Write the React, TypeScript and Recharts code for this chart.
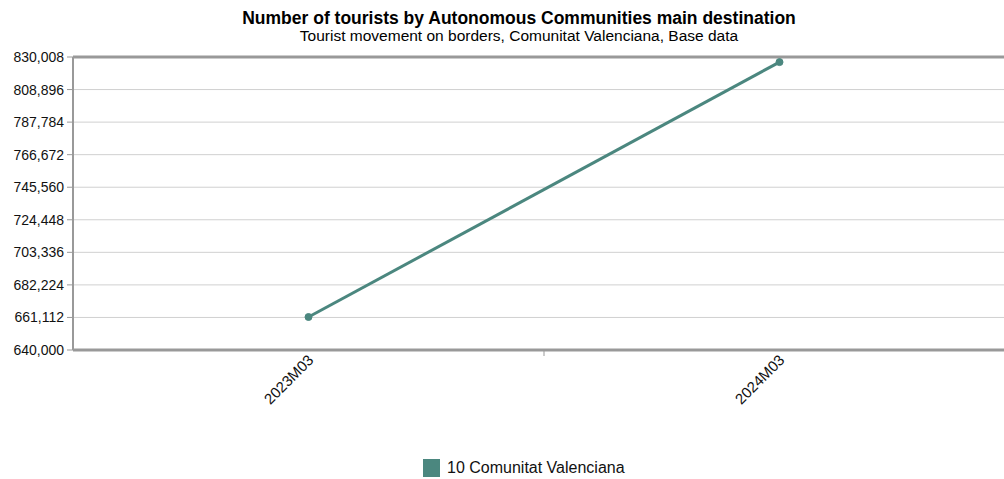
import React from 'react';
import { LineChart, Line, XAxis, YAxis, CartesianGrid, ReferenceLine } from 'recharts';

const periods: string[] = ['2023M03', '2024M03'];
const tourists: number[] = [661400, 826700];
const yTicks: number[] = [640000, 661112, 682224, 703336, 724448, 745560, 766672, 787784, 808896, 830008];
const seriesName = '10 Comunitat Valenciana';

const data = periods.map((p, i) => ({ period: p, value: tourists[i] }));

const FONT = '"Liberation Sans", Arial, Helvetica, sans-serif';
const LINE_COLOR = '#4b877f';
const AXIS_COLOR = '#999999';

const XTick = (props: any) => {
    const { x, y, payload, index } = props;
    return (
        <g>
            {index === 0 && (
                <line x1={x + 235.5} y1={y - 8} x2={x + 235.5} y2={y - 2} stroke={AXIS_COLOR} />
            )}
            <text
                x={x + 6}
                y={y + 3}
                transform={`rotate(-45, ${x + 6}, ${y + 3})`}
                textAnchor="end"
                fontSize={15}
                fontFamily={FONT}
                fill="#111"
            >
                {payload.value}
            </text>
        </g>
    );
};

const App: React.FC = () => {
    return (
        <div
            style={{
                position: 'absolute',
                left: 0,
                top: 0,
                width: 1004,
                height: 479,
                overflow: 'hidden',
                background: '#fff',
                fontFamily: FONT,
            }}
        >
            <div style={{ position: 'absolute', left: 0, width: 1038, top: 8, textAlign: 'center', fontSize: 17.5, fontWeight: 'bold', color: '#000', whiteSpace: 'nowrap' }}>
                Number of tourists by Autonomous Communities main destination
            </div>
            <div style={{ position: 'absolute', left: 0, width: 1038, top: 27, textAlign: 'center', fontSize: 15.5, color: '#000', whiteSpace: 'nowrap' }}>
                Tourist movement on borders, Comunitat Valenciana, Base data
            </div>
            <div style={{ position: 'absolute', left: 0, top: 0 }}>
                <LineChart
                    width={1015}
                    height={479}
                    data={data}
                    margin={{ top: 57, right: 0, left: 0, bottom: 0 }}
                >
                    <CartesianGrid vertical={false} stroke="#d0d0d0" />
                    <XAxis
                        dataKey="period"
                        scale="band"
                        height={129}
                        axisLine={{ stroke: AXIS_COLOR, strokeWidth: 3 }}
                        tickLine={false}
                        tick={<XTick />}
                        interval={0}
                    />
                    <YAxis
                        type="number"
                        width={73}
                        domain={[640000, 830008]}
                        ticks={yTicks}
                        interval={0}
                        allowDataOverflow
                        tickFormatter={(v: number) => v.toLocaleString('en-US')}
                        tick={{ fontSize: 14, fill: '#111', fontFamily: FONT }}
                        tickSize={6}
                        tickMargin={3}
                        axisLine={{ stroke: AXIS_COLOR, strokeWidth: 2 }}
                        tickLine={{ stroke: AXIS_COLOR }}
                    />
                    <ReferenceLine y={830008} stroke={AXIS_COLOR} strokeWidth={3} />
                    <Line
                        type="linear"
                        dataKey="value"
                        name={seriesName}
                        stroke={LINE_COLOR}
                        strokeWidth={3}
                        dot={{ r: 3.5, fill: LINE_COLOR, stroke: LINE_COLOR, strokeWidth: 1 }}
                        activeDot={false}
                        isAnimationActive={false}
                    />
                </LineChart>
            </div>
            <div
                style={{
                    position: 'absolute',
                    left: 423,
                    top: 459,
                    display: 'flex',
                    alignItems: 'center',
                    fontSize: 16,
                    color: '#111',
                }}
            >
                <span style={{ display: 'inline-block', width: 17, height: 18, background: LINE_COLOR, marginRight: 7 }} />
                <span>{seriesName}</span>
            </div>
        </div>
    );
};

export default App;
